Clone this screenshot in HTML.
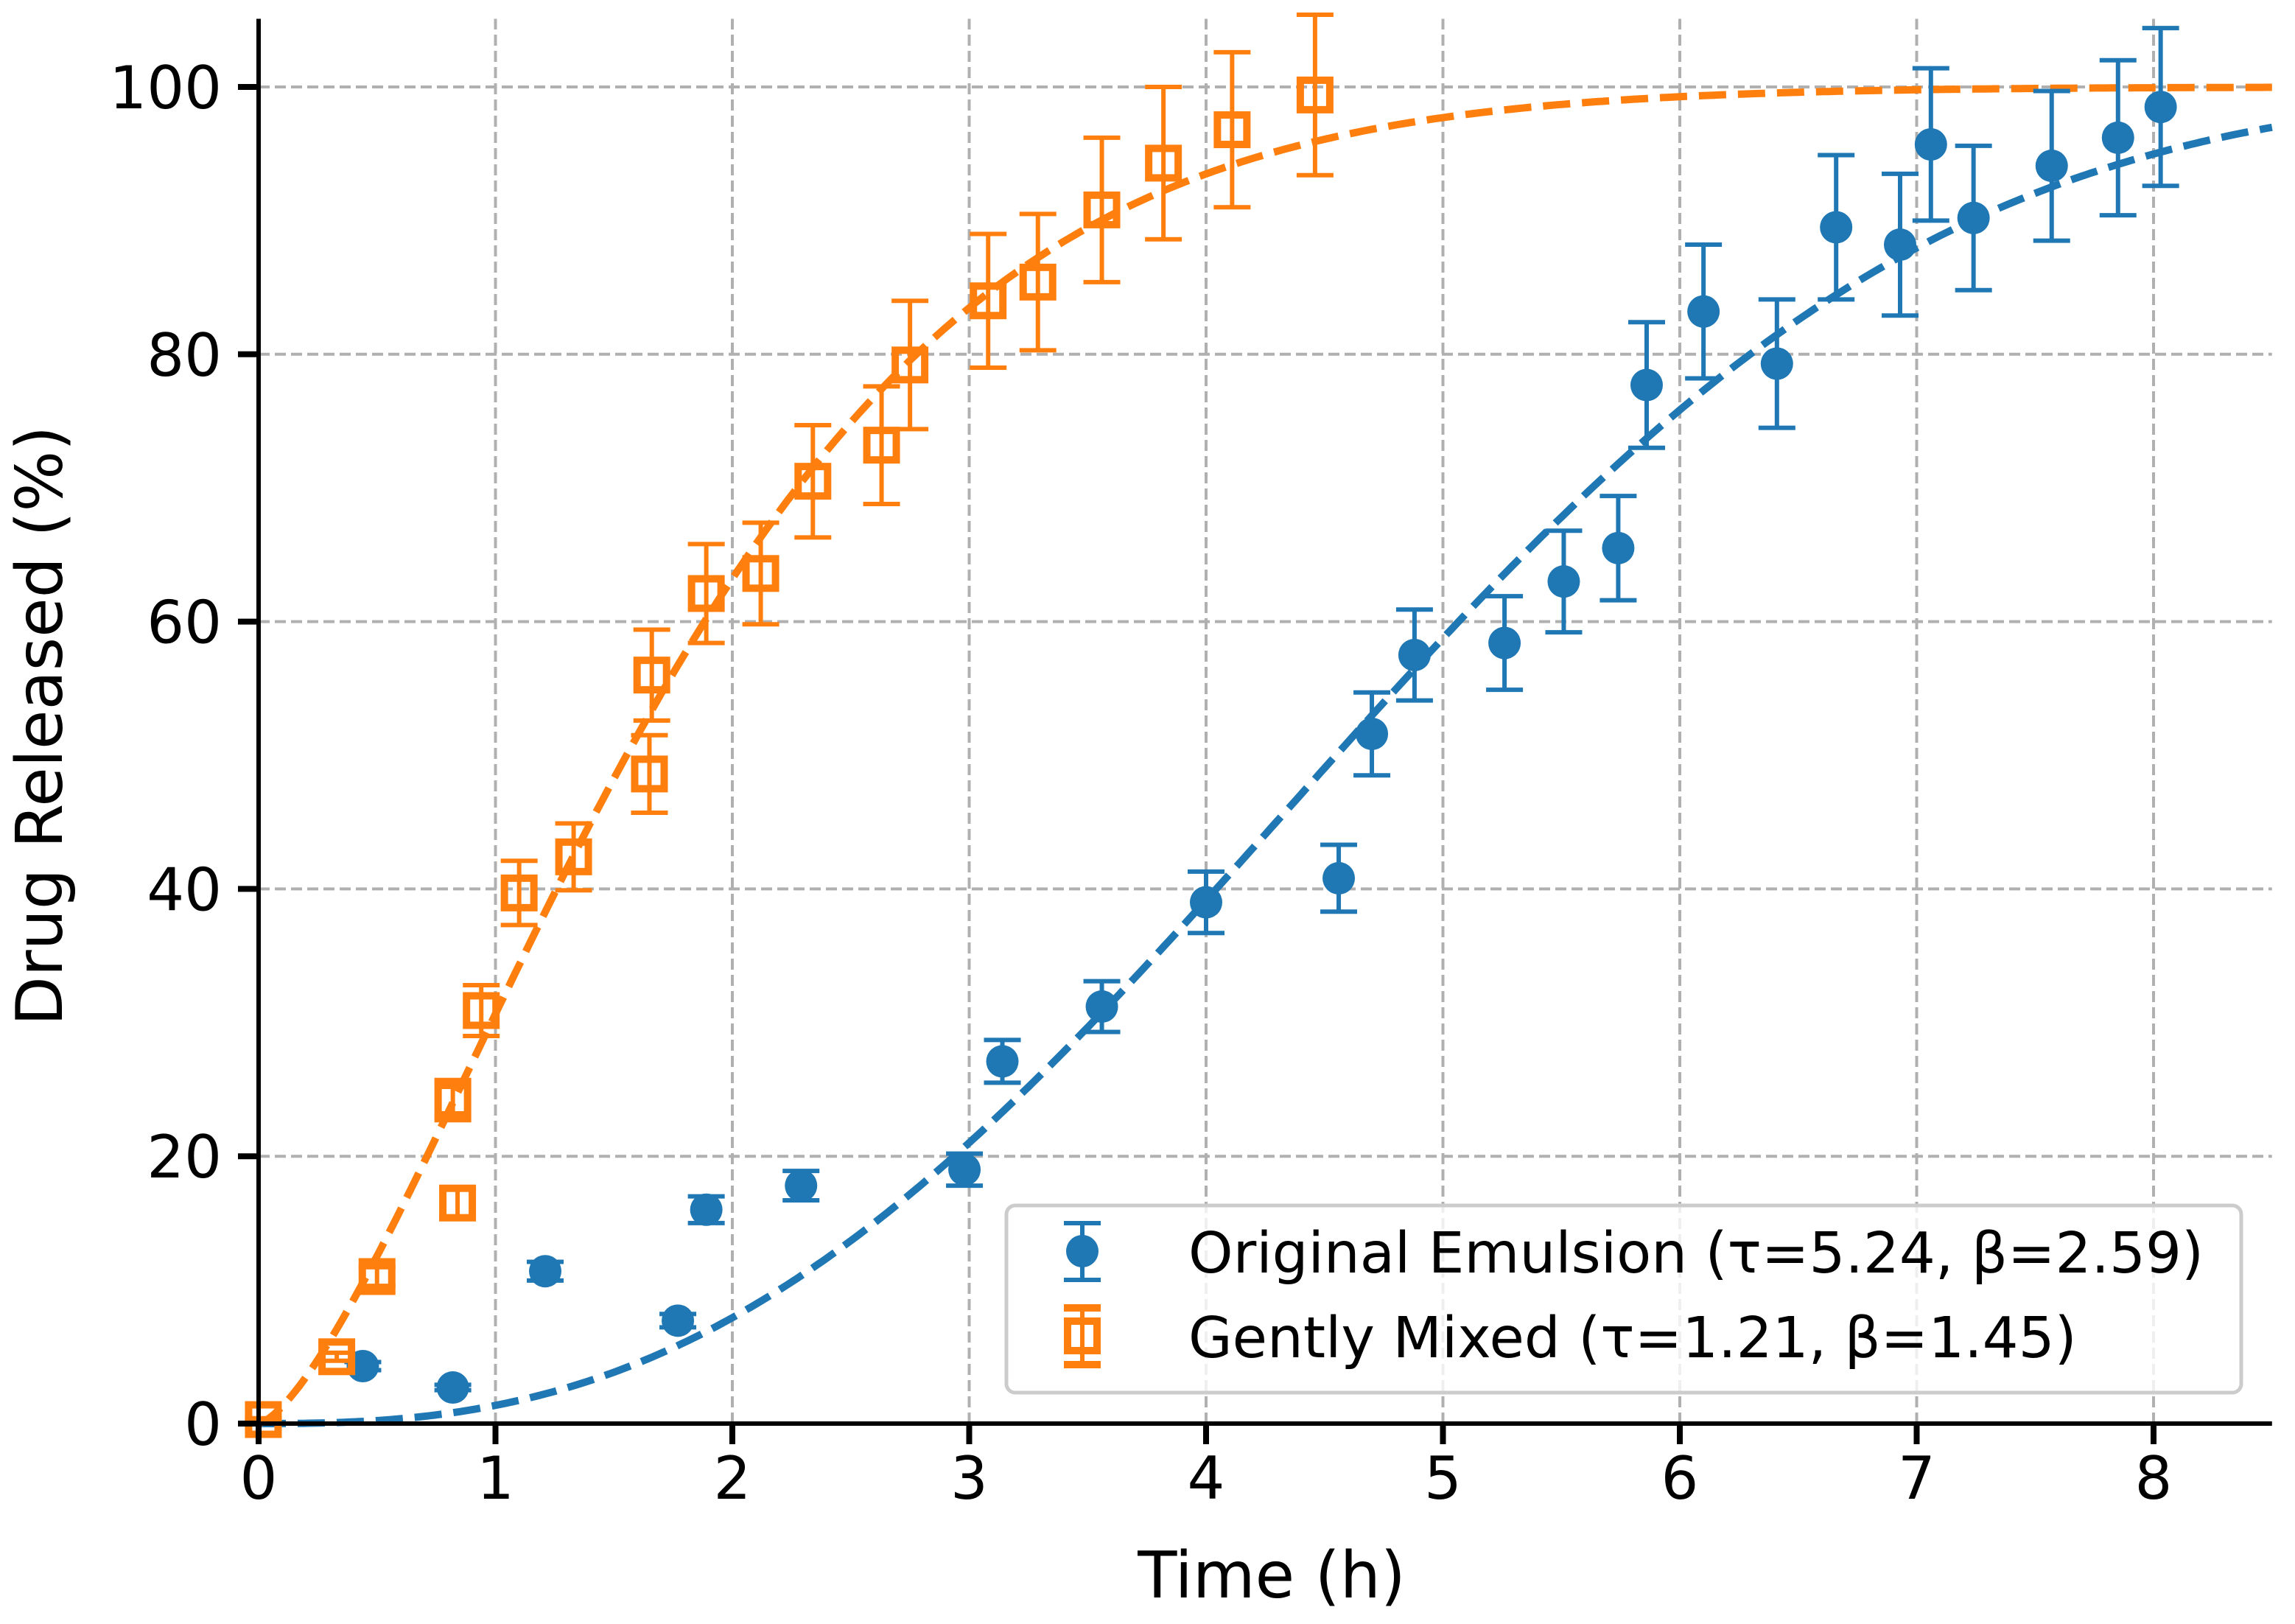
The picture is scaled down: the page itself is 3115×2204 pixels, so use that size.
<!DOCTYPE html>
<html><head><meta charset="utf-8"><style>
html,body{margin:0;padding:0;background:#fff;}
svg{display:block;font-family:"DejaVu Sans","Liberation Sans",sans-serif;}
</style></head><body>
<svg id="chart" width="3115" height="2204" viewBox="0 0 3115 2204" xmlns="http://www.w3.org/2000/svg">
<g id="grid"></g>
<g id="curves"></g>
<g id="points"></g>
<g id="axes"></g>
<text x="1726" y="2168" font-size="87" text-anchor="middle">Time (h)</text>
<text transform="translate(84,985) rotate(-90)" font-size="87" text-anchor="middle">Drug Released (%)</text>
<g>
<rect x="1366" y="1636" width="1676" height="254" rx="12" fill="#fff" fill-opacity="0.8" stroke="#cccccc" stroke-width="5"/>
<g>
<line x1="1469" y1="1660" x2="1469" y2="1737" stroke="#1f77b4" stroke-width="6"/>
<line x1="1444" y1="1660" x2="1494" y2="1660" stroke="#1f77b4" stroke-width="6"/>
<line x1="1444" y1="1737" x2="1494" y2="1737" stroke="#1f77b4" stroke-width="6"/>
<circle cx="1469" cy="1698" r="22" fill="#1f77b4"/>
<text x="1613" y="1727" font-size="77">Original Emulsion (τ=5.24, β=2.59)</text>
</g>
<g>
<line x1="1469" y1="1773" x2="1469" y2="1853" stroke="#ff7f0e" stroke-width="6"/>
<line x1="1444" y1="1775" x2="1494" y2="1775" stroke="#ff7f0e" stroke-width="10"/>
<line x1="1444" y1="1852" x2="1494" y2="1852" stroke="#ff7f0e" stroke-width="10"/>
<rect x="1449" y="1793" width="40" height="40" fill="none" stroke="#ff7f0e" stroke-width="10"/>
<text x="1613" y="1842" font-size="77">Gently Mixed (τ=1.21, β=1.45)</text>
</g>
</g>
</svg>
<script>
const blueT=[0.44,0.82,1.21,1.77,1.89,2.29,2.98,3.14,3.56,4.0,4.56,4.70,4.88,5.26,5.51,5.74,5.86,6.10,6.41,6.66,6.93,7.06,7.24,7.57,7.85,8.03];
const blueY=[4.3,2.7,11.4,7.7,16.0,17.8,19.0,27.1,31.2,39.0,40.8,51.6,57.5,58.4,63.0,65.5,77.7,83.2,79.3,89.5,88.2,95.7,90.2,94.1,96.2,98.5];
const blueErr=[0.3,0.2,0.7,0.5,1.0,1.1,1.2,1.6,1.9,2.3,2.5,3.1,3.4,3.5,3.8,3.9,4.7,5.0,4.8,5.4,5.3,5.7,5.4,5.6,5.8,5.9];
const orangeT=[0.02,0.33,0.50,0.82,0.84,0.94,1.10,1.33,1.65,1.66,1.89,2.12,2.34,2.63,2.75,3.08,3.29,3.56,3.82,4.11,4.46];
const orangeY=[0.3,5.0,11.0,24.2,16.5,30.9,39.7,42.4,48.6,56.0,62.1,63.6,70.5,73.2,79.2,84.0,85.4,90.8,94.3,96.8,99.4];
const orangeErr=[0.1,0.3,0.7,1.5,1.0,1.9,2.4,2.5,2.9,3.4,3.7,3.8,4.2,4.4,4.8,5.0,5.1,5.4,5.7,5.8,6.0];
const curveScale=[5.24,2.0];
const fitBeta=[2.59,1.45];
const xTicks=[0,1,2,3,4,5,6,7,8];
const yTicks=[0,20,40,60,80,100];

const X0=351,XU=321.5,Y0=1932,YU=18.14,XMAX=8.5,YMAX=105.1;
const sx=v=>X0+v*XU, sy=v=>Y0-v*YU;
const NS='http://www.w3.org/2000/svg';
function mk(tag,attrs,parent){const e=document.createElementNS(NS,tag);for(const k in attrs)e.setAttribute(k,attrs[k]);parent.appendChild(e);return e;}
const grid=document.getElementById('grid'),axes=document.getElementById('axes'),curves=document.getElementById('curves'),pts=document.getElementById('points');
const rightX=sx(XMAX),topY=sy(YMAX);
xTicks.forEach(t=>{
 const g=mk('line',{x1:sx(t),x2:sx(t),y1:Y0,y2:topY,stroke:'#b0b0b0','stroke-width':4,'stroke-dasharray':'15,7'},grid);
 
 
 const tk=mk('line',{x1:sx(t),x2:sx(t),y1:Y0,y2:Y0+28,stroke:'#000','stroke-width':8},axes);
 
 
 const tl=mk('text',{x:sx(t),y:Y0+102,'font-size':80,'text-anchor':'middle'},axes);tl.textContent=t;
 
 
});
yTicks.forEach(t=>{
 const g=mk('line',{x1:X0,x2:rightX,y1:sy(t),y2:sy(t),stroke:'#b0b0b0','stroke-width':4,'stroke-dasharray':'15,7'},grid);
 
 
 const tk=mk('line',{x1:X0-28,x2:X0,y1:sy(t),y2:sy(t),stroke:'#000','stroke-width':8},axes);
 
 
 const tl=mk('text',{x:X0-50,y:sy(t)+29,'font-size':80,'text-anchor':'end'},axes);tl.textContent=t;
 
 
});
const sl=mk('line',{x1:X0,x2:X0,y1:Y0+3,y2:topY,stroke:'#000','stroke-width':6},axes);


const sb=mk('line',{x1:X0-3,x2:rightX,y1:Y0,y2:Y0,stroke:'#000','stroke-width':6},axes);



const colors=['#1f77b4','#ff7f0e'];
[0,1].forEach(i=>{
 let d='';
 for(let k=0;k<=400;k++){const t=XMAX*k/400;const y=100*(1-Math.exp(-Math.pow(t/curveScale[i],fitBeta[i])));d+=(k?'L':'M')+sx(t).toFixed(1)+','+sy(y).toFixed(1);}
 const p=mk('path',{d:d,fill:'none',stroke:colors[i],'stroke-width':10,'stroke-dasharray':'37,16'},curves);
 
 
});
function errbar(x,y,e,c,w){
 mk('line',{x1:sx(x),x2:sx(x),y1:sy(y-e),y2:sy(y+e),stroke:c,'stroke-width':6},pts);
 mk('line',{x1:sx(x)-25,x2:sx(x)+25,y1:sy(y-e),y2:sy(y-e),stroke:c,'stroke-width':w},pts);
 mk('line',{x1:sx(x)-25,x2:sx(x)+25,y1:sy(y+e),y2:sy(y+e),stroke:c,'stroke-width':w},pts);
}
blueT.forEach((t,i)=>{
 errbar(t,blueY[i],blueErr[i],colors[0],6);
 const c=mk('circle',{cx:sx(t),cy:sy(blueY[i]),r:22,fill:colors[0]},pts);
 
 
});
orangeT.forEach((t,i)=>{
 errbar(t,orangeY[i],orangeErr[i],colors[1],6);
 const r=mk('rect',{x:sx(t)-20,y:sy(orangeY[i])-20,width:40,height:40,fill:'none',stroke:colors[1],'stroke-width':10},pts);
 
 
});
</script>
</body></html>
